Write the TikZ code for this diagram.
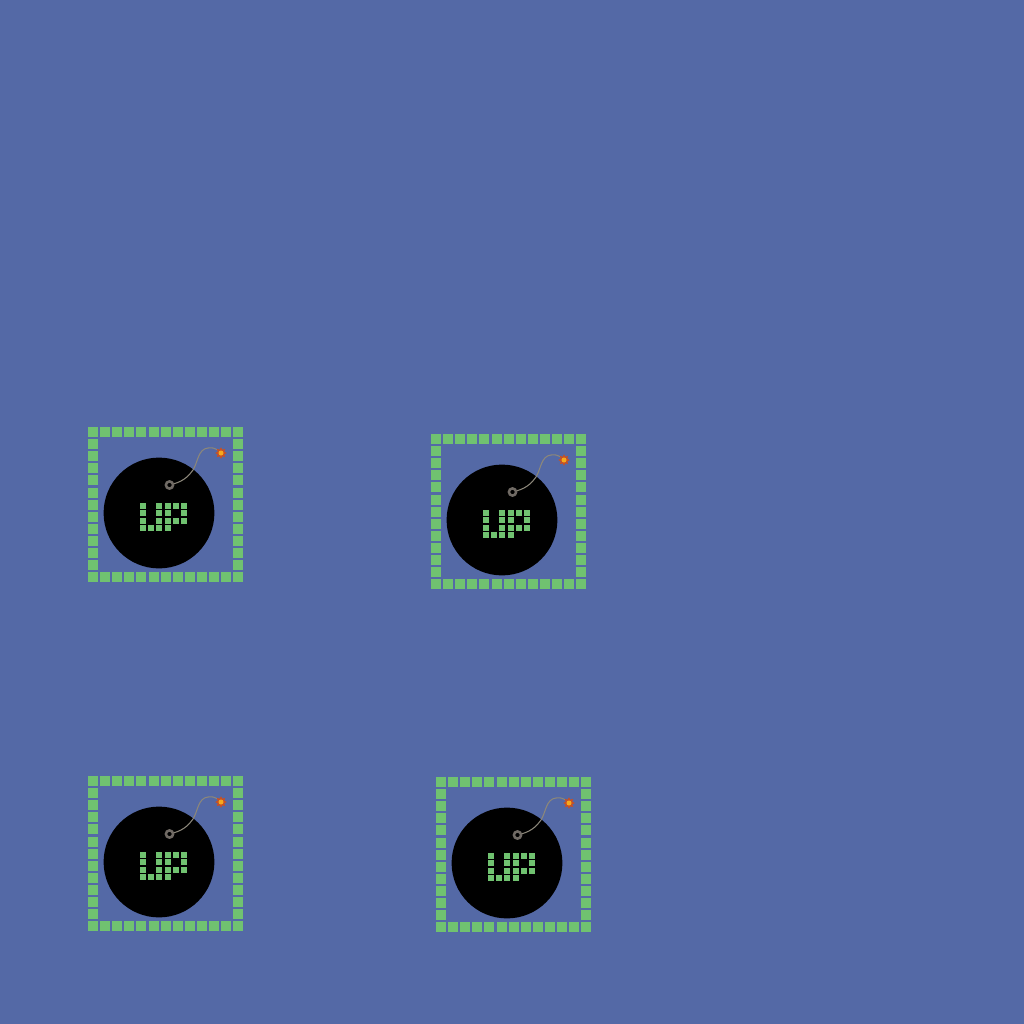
\documentclass[tikz,border=0pt]{standalone}
\usetikzlibrary{shapes.geometric}
\definecolor{bgblue}{RGB}{84,105,166}
\definecolor{pixgreen}{RGB}{112,194,112}
\definecolor{fusegray}{RGB}{140,135,122}
\definecolor{ringgray}{RGB}{112,106,100}
\definecolor{sparkred}{RGB}{200,80,35}
\definecolor{sparkyellow}{RGB}{245,170,30}
\tikzset{
  x=0.01cm,y=-0.01cm,
  framepix/.style={fill=pixgreen,draw=none},
  fuse/.style={draw=fusegray,line width=0.3pt},
  ringstyle/.style={draw=ringgray,line width=0.72pt,fill=black},
  sparkstar/.style={star,star points=8,star point ratio=1.6,minimum size=0.115cm,inner sep=0pt,fill=sparkred,draw=none},
}
\newcommand{\bombunit}[2]{%
  \begin{scope}[shift={(#1,#2)}]
    \foreach \i in {0,...,12}{
      \pgfmathsetmacro{\p}{round(88+12.1*\i)}
      \pgfmathsetmacro{\q}{round(427+12.1*\i)}
      \fill[framepix] (\p+.25,427.25) rectangle (\p+9.75,436.75);
      \fill[framepix] (\p+.25,572.25) rectangle (\p+9.75,581.75);
      \fill[framepix] (88.25,\q+.25) rectangle (97.75,\q+9.75);
      \fill[framepix] (233.25,\q+.25) rectangle (242.75,\q+9.75);
    }
    \fill[black] (159,513) circle[radius=55.4];
    \foreach \c/\r in {140/503,140/510,140/518,140/525,148/525,
                       156/503,156/510,156/518,156/525,
                       165/503,165/510,165/518,165/525,173/503,173/518,
                       181/503,181/510,181/518}{
      \fill[framepix] (\c+.25,\r+.25) rectangle (\c+5.75,\r+5.75);
    }
    \draw[fuse] (173,484) .. controls (185,481) and (190,474) .. (193,470)
      .. controls (198,462) and (198,449) .. (208,448)
      .. controls (212,447.5) and (215,448) .. (218,450);
    \draw[ringstyle] (169.5,485) circle[radius=3.6];
    \node[sparkstar] (spark) at (221,453) {};
    \fill[sparkyellow] (spark.center) circle[radius=2.5];
  \end{scope}
}
\begin{document}
\begin{tikzpicture}
  \fill[bgblue] (0,0) rectangle (1024,1024);
  \useasboundingbox (0,0) rectangle (1024,1024);
  \bombunit{0}{0}
  \bombunit{343}{7}
  \bombunit{0}{349}
  \bombunit{348}{350}
\end{tikzpicture}
\end{document}
